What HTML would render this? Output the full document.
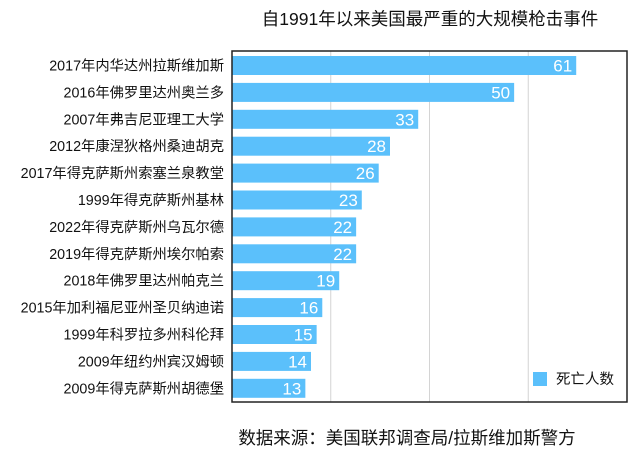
<!DOCTYPE html>
<html><head><meta charset="utf-8"><style>
body{margin:0;background:#fff;font-family:"Liberation Sans","Noto Sans CJK SC",sans-serif;}
</style></head><body>
<svg width="640" height="460" xmlns="http://www.w3.org/2000/svg" font-family="Liberation Sans, Noto Sans CJK SC, sans-serif">
<text x="430" y="25" text-anchor="middle" font-size="17.5" fill="#111">自1991年以来美国最严重的大规模枪击事件</text>
<g id="grid"></g>
<g id="bars"></g>
<g id="labels"></g>
<rect x="232" y="51" width="395" height="351" fill="none" stroke="#222" stroke-width="1.5"/>
<g>
<rect x="533" y="372" width="14" height="14" fill="#5bc0fb"/>
<text x="556" y="384" font-size="14.5" fill="#111">死亡人数</text>
</g>
<text x="407" y="444" text-anchor="middle" font-size="17.5" fill="#111">数据来源：美国联邦调查局/拉斯维加斯警方</text>
</svg>
<script>
const categories=["2017年内华达州拉斯维加斯","2016年佛罗里达州奥兰多","2007年弗吉尼亚理工大学","2012年康涅狄格州桑迪胡克","2017年得克萨斯州索塞兰泉教堂","1999年得克萨斯州基林","2022年得克萨斯州乌瓦尔德","2019年得克萨斯州埃尔帕索","2018年佛罗里达州帕克兰","2015年加利福尼亚州圣贝纳迪诺","1999年科罗拉多州科伦拜","2009年纽约州宾汉姆顿","2009年得克萨斯州胡德堡"];
const deaths=[61,50,33,28,26,23,22,22,19,16,15,14,13];
const xMax=70;
const NS="http://www.w3.org/2000/svg";
const L=232,W=395,T=56,P=26.9,BH=19;
const xs=v=>L+v/xMax*W;
const ys=i=>T+i*P;
const grid=document.getElementById('grid'),bars=document.getElementById('bars'),labels=document.getElementById('labels');
for(let k=1;k<4;k++){const l=document.createElementNS(NS,'line');
l.setAttribute('x1',L+W*k/4);l.setAttribute('x2',L+W*k/4);l.setAttribute('y1',51);l.setAttribute('y2',402);
l.setAttribute('stroke','#d4d4d4');


grid.appendChild(l);}
deaths.forEach((v,i)=>{
const r=document.createElementNS(NS,'rect');
r.setAttribute('x',L);r.setAttribute('y',ys(i));r.setAttribute('width',xs(v)-L);r.setAttribute('height',BH);r.setAttribute('fill','#5bc0fb');


bars.appendChild(r);
const t=document.createElementNS(NS,'text');
t.setAttribute('x',xs(v)-4);t.setAttribute('y',ys(i)+BH/2+6);t.setAttribute('text-anchor','end');t.setAttribute('font-size','17');t.setAttribute('fill','#fff');
t.textContent=v;


bars.appendChild(t);
const c=document.createElementNS(NS,'text');
c.setAttribute('x',224);c.setAttribute('y',ys(i)+BH/2+5);c.setAttribute('text-anchor','end');c.setAttribute('font-size','14.3');c.setAttribute('fill','#111');
c.textContent=categories[i];


labels.appendChild(c);
});
</script>
</body></html>
